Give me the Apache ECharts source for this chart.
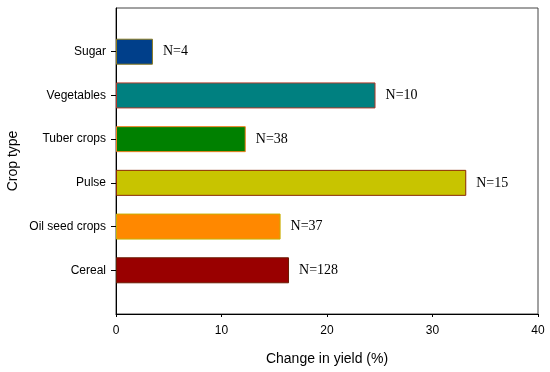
<!DOCTYPE html>
<html><head><meta charset="utf-8">
<script src="https://cdn.jsdelivr.net/npm/echarts@6/dist/echarts.min.js"></script>
<style>html,body{margin:0;padding:0;background:#fff}#c{width:550px;height:372px}</style>
</head><body><div id="c"></div>
<script>
// bottom to top; blank slots pad the axis ends
const categories = ['', 'Cereal', 'Oil seed crops', 'Pulse', 'Tuber crops', 'Vegetables', 'Sugar', ''];
const values = [null, 16.4, 15.6, 33.2, 12.3, 24.6, 3.5, null];
const sampleLabels = ['', 'N=128', 'N=37', 'N=15', 'N=38', 'N=10', 'N=4', ''];
const fillColors = ['#000', '#990000', '#ff8800', '#c8c400', '#008000', '#008080', '#003f8a', '#000'];
const borderColors = ['#000', '#6a1a00', '#c8b000', '#8b2a00', '#f08020', '#b03a2a', '#8a7a20', '#000'];
const xTicks = [0, 10, 20, 30, 40];

const chart = echarts.init(document.getElementById('c'), null, {renderer: 'canvas'});
chart.setOption({
  animation: false,
  grid: {left: 116, right: 12, top: 8, bottom: 58, show: true, borderColor: '#444', borderWidth: 1,
         containLabel: false, outerBoundsMode: 'none'},
  xAxis: {
    type: 'value', min: xTicks[0], max: xTicks[xTicks.length - 1], interval: 10,
    name: 'Change in yield (%)', nameLocation: 'middle', nameGap: 38, nameMoveOverlap: false,
    nameTextStyle: {fontFamily: 'Liberation Sans', fontSize: 14, color: '#000'},
    axisLine: {show: true, lineStyle: {color: '#000', width: 1}},
    axisTick: {show: true, length: 3, lineStyle: {color: '#000'}},
    axisLabel: {fontFamily: 'Liberation Sans', fontSize: 12, color: '#000', margin: 11},
    splitLine: {show: false}
  },
  yAxis: {
    type: 'category', data: categories, boundaryGap: false,
    name: 'Crop type', nameLocation: 'middle', nameGap: 96, nameMoveOverlap: false,
    nameTextStyle: {fontFamily: 'Liberation Sans', fontSize: 14, color: '#000'},
    axisLine: {show: true, lineStyle: {color: '#000', width: 1}},
    axisTick: {show: true, length: 5, interval: (i, v) => v !== '', lineStyle: {color: '#000'}},
    axisLabel: {fontFamily: 'Liberation Sans', fontSize: 12, color: '#000', margin: 10, interval: 0},
    splitLine: {show: false}
  },
  series: [{
    type: 'bar', barWidth: 26,
    data: values.map((v, i) => ({
      value: v,
      itemStyle: {color: fillColors[i], borderColor: borderColors[i], borderWidth: 1},
      label: {formatter: sampleLabels[i]}
    })),
    label: {show: true, position: 'right', distance: 10, fontFamily: 'Liberation Serif', fontSize: 14, color: '#000'}
  }]
});
</script></body></html>
